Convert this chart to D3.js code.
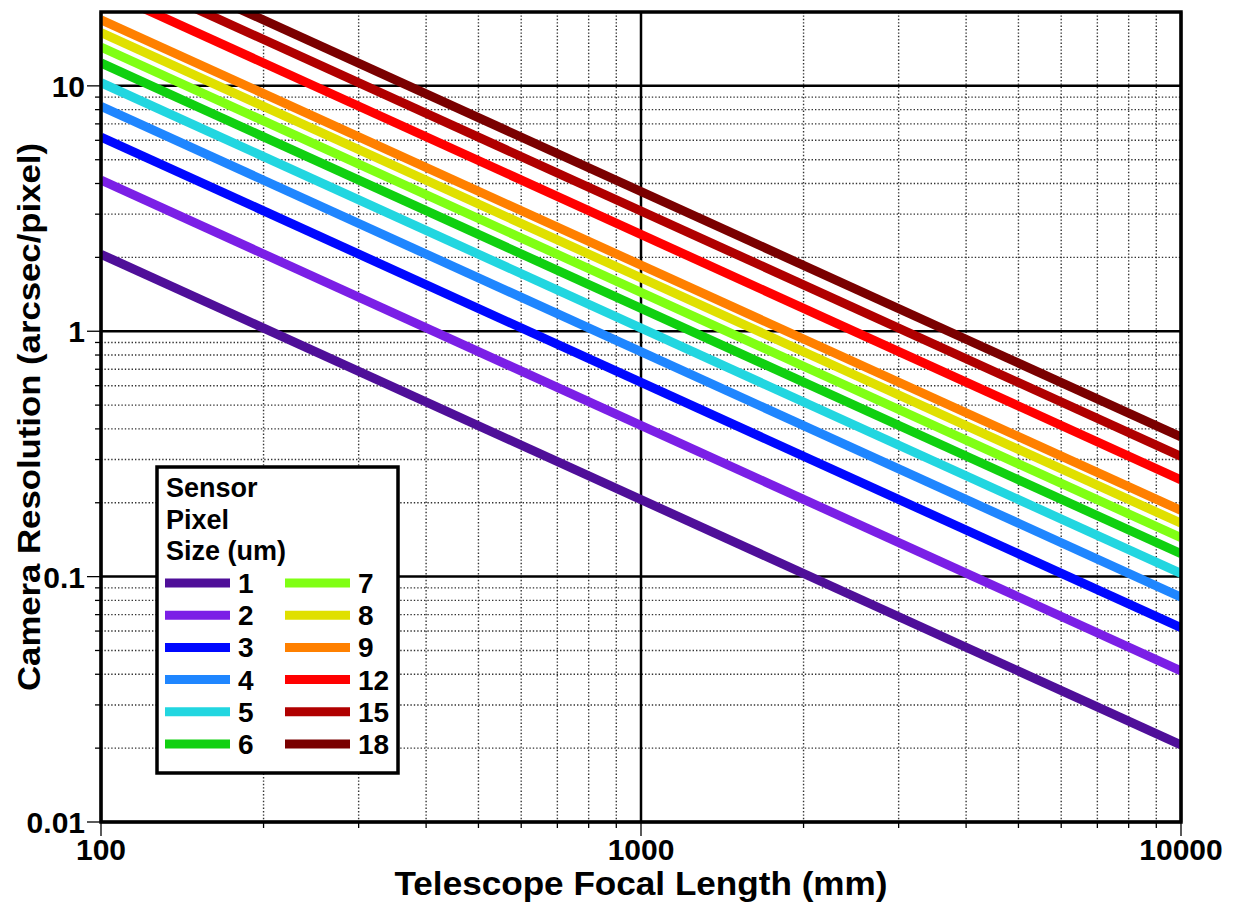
<!DOCTYPE html>
<html><head><meta charset="utf-8">
<script src="https://cdn.jsdelivr.net/npm/d3@7"></script>
<style>body{margin:0;background:#fff;} svg text{font-family:Arial,"Liberation Sans",sans-serif;font-weight:bold;fill:#000;}</style>
</head><body>
<svg id="chart" width="1234" height="903"></svg>
<script>
const pixelSizes = ["1","2","3","4","5","6","7","8","9","12","15","18"];
const focalEnds = [100, 10000];
const resAt100 = [2.06, 4.13, 6.19, 8.25, 10.3, 12.4, 14.4, 16.5, 18.6, 24.8, 30.9, 37.1];
const resAt10000 = [0.0206, 0.0413, 0.0619, 0.0825, 0.103, 0.124, 0.144, 0.165, 0.186, 0.248, 0.309, 0.371];
const colors = ["#4f0f99","#7b1fe6","#0008ff","#1f86ff","#22d6e0","#10d010","#80ff14","#e0e000","#ff8000","#ff0000","#b00000","#7a0000"];
const xTickLabels = ["100","1000","10000"];
const yTickLabels = ["0.01","0.1","1","10"];

const svg = d3.select("#chart");
const L=101, R=1181, T=12, B=822;
const x = d3.scaleLog().domain([100,10000]).range([L,R]);
const y = d3.scaleLog().domain([0.01,20]).range([B,T]);

const xMinor=[], yMinor=[];
for (let d=100; d<10000; d*=10) for (let k=2;k<=9;k++) xMinor.push(d*k);
for (let d=0.01; d<20; d*=10) for (let k=2;k<=9;k++){ const v=+(d*k).toPrecision(3); if(v<20) yMinor.push(v);}
const xMajor = xTickLabels.map(Number), yMajor = yTickLabels.map(Number);

const grid = svg.append("g");
grid.selectAll(".vx").data(xMinor).join("line").attr("x1",d=>x(d)).attr("x2",d=>x(d)).attr("y1",T).attr("y2",B)
  .attr("stroke","#333").attr("stroke-width",1.4).attr("stroke-dasharray","1.4,2");
grid.selectAll(".hy").data(yMinor).join("line").attr("y1",d=>y(d)).attr("y2",d=>y(d)).attr("x1",L).attr("x2",R)
  .attr("stroke","#333").attr("stroke-width",1.4).attr("stroke-dasharray","1.4,2");
grid.selectAll(".vX").data(xMajor).join("line").attr("x1",d=>x(d)).attr("x2",d=>x(d)).attr("y1",T).attr("y2",B)
  .attr("stroke","#000").attr("stroke-width",2.5);
grid.selectAll(".hY").data(yMajor).join("line").attr("y1",d=>y(d)).attr("y2",d=>y(d)).attr("x1",L).attr("x2",R)
  .attr("stroke","#000").attr("stroke-width",2.5);

// ticks
const ticks = svg.append("g").attr("stroke","#000").attr("stroke-width",1.3);
ticks.selectAll(".a").data(yMinor).join("line").attr("x1",L-6).attr("x2",L).attr("y1",d=>y(d)).attr("y2",d=>y(d));
ticks.selectAll(".b").data(yMajor).join("line").attr("x1",L-14).attr("x2",L).attr("y1",d=>y(d)).attr("y2",d=>y(d));
ticks.selectAll(".c").data(xMinor).join("line").attr("y1",B).attr("y2",B+6).attr("x1",d=>x(d)).attr("x2",d=>x(d));
ticks.selectAll(".d").data(xMajor).join("line").attr("y1",B).attr("y2",B+14).attr("x1",d=>x(d)).attr("x2",d=>x(d));

// series
svg.append("clipPath").attr("id","clip").append("rect").attr("x",L).attr("y",T).attr("width",R-L).attr("height",B-T);
const series = pixelSizes.map((p,i)=>({p, c:colors[i], pts:[[focalEnds[0],resAt100[i]],[focalEnds[1],resAt10000[i]]]}));
const line = d3.line().x(d=>x(d[0])).y(d=>y(d[1]));
svg.append("g").attr("clip-path","url(#clip)").selectAll("path").data(series).join("path")
  .attr("d",d=>line(d.pts)).attr("fill","none").attr("stroke",d=>d.c).attr("stroke-width",9);

// frame
svg.append("rect").attr("x",L).attr("y",T).attr("width",R-L).attr("height",B-T).attr("fill","none").attr("stroke","#000").attr("stroke-width",3.5);

// tick labels
svg.selectAll(".yl").data(yTickLabels).join("text").attr("x",85).attr("y",d=>y(+d)+11).attr("text-anchor","end").attr("font-size",30).text(d=>d);
svg.selectAll(".xl").data(xTickLabels).join("text").attr("x",d=>x(+d)).attr("y",860).attr("text-anchor","middle").attr("font-size",30).text(d=>d);

// axis titles
svg.append("text").attr("x",641).attr("y",895).attr("text-anchor","middle").attr("font-size",33)
  .attr("textLength",493).attr("lengthAdjust","spacingAndGlyphs").text("Telescope Focal Length (mm)");
svg.append("text").attr("transform","translate(40,417) rotate(-90)").attr("text-anchor","middle").attr("font-size",31)
  .attr("textLength",548).attr("lengthAdjust","spacingAndGlyphs").text("Camera Resolution (arcsec/pixel)");

// legend
const lg = svg.append("g");
lg.append("rect").attr("x",157).attr("y",467).attr("width",241).attr("height",306).attr("fill","#fff").attr("stroke","#000").attr("stroke-width",3.5);
["Sensor","Pixel","Size (um)"].forEach((t,i)=>lg.append("text").attr("x",166).attr("y",497+i*31.5).attr("font-size",27).text(t));
series.forEach((s,i)=>{
  const col=Math.floor(i/6), row=i%6;
  const sx = col? 285:165, yy = 583+row*32.2;
  lg.append("line").attr("x1",sx).attr("x2",sx+65).attr("y1",yy).attr("y2",yy).attr("stroke",s.c).attr("stroke-width",9);
  lg.append("text").attr("x",col?358:238).attr("y",yy+10).attr("font-size",28).text(s.p);
});
</script>
</body></html>
